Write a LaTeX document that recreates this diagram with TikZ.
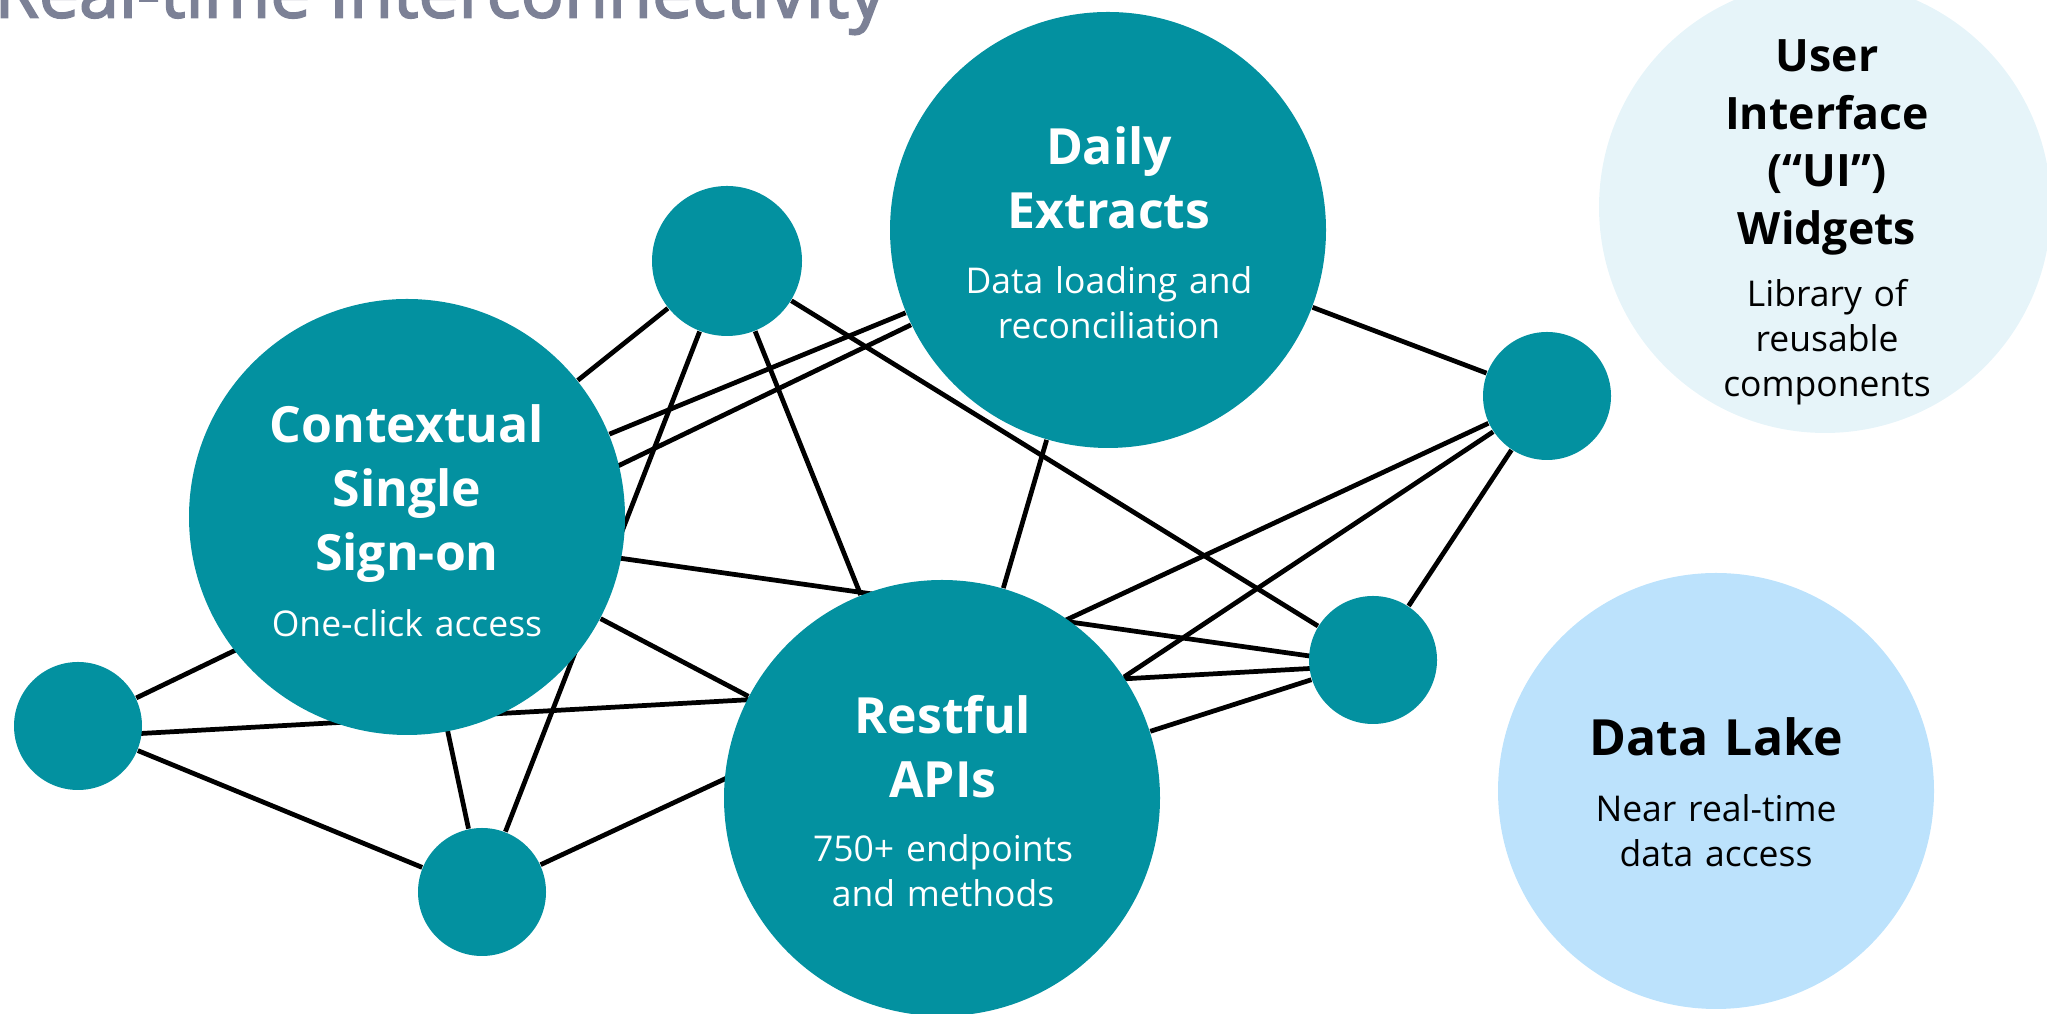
\documentclass[tikz,border=0pt]{standalone}
\usepackage{fontspec}
\setmainfont{Open Sans}
\newfontfamily\headlinefont[FakeBold=2.5]{Open Sans}
\usetikzlibrary{backgrounds}

\definecolor{hubteal}{HTML}{0391A0}
\definecolor{uipale}{HTML}{E6F4F9}
\definecolor{lakeblue}{HTML}{BCE2FC}
\definecolor{titlegray}{HTML}{7C8196}

\begin{document}
\begin{tikzpicture}[
    hub/.style={circle, fill=hubteal, inner sep=0pt, minimum size=#1},
    link/.style={line width=1.35pt, black},
    head/.style={text width=4.2cm, align=center, inner sep=0pt, anchor=base,
        font=\fontsize{14.2}{18.2}\selectfont\bfseries},
    blurb/.style={text width=4.2cm, align=center, inner sep=0pt, anchor=base,
        font=\fontsize{10.1}{12.8}\selectfont}
]
    \useasboundingbox (0,0) rectangle (20.47,10.14);

    \node[anchor=base east, inner sep=0pt, text=titlegray,
        font=\headlinefont\fontsize{20.4}{24}\selectfont] (title) at (8.86,9.965) {Real-time Interconnectivity};

    % the three big hubs
    \node[hub=4.36cm] (sso) at (4.07,4.97) {};
    \node[hub=4.36cm] (extracts) at (11.08,7.84) {};
    \node[hub=4.36cm] (apis) at (9.42,2.16) {};

    % small unlabelled hubs
    \node[hub=1.5cm] (dotA) at (7.27,7.53) {};
    \node[hub=1.28cm] (dotB) at (0.78,2.88) {};
    \node[hub=1.28cm] (dotC) at (4.82,1.22) {};
    \node[hub=1.28cm] (dotD) at (15.47,6.18) {};
    \node[hub=1.28cm] (dotE) at (13.73,3.54) {};

    % the mesh runs behind the hubs
    \begin{scope}[on background layer]
        \draw[link] (dotA) -- (sso);
        \draw[link] (dotA) -- (dotC);
        \draw[link] (dotA) -- (apis);
        \draw[link] (dotA) -- (dotE);
        \draw[link] (extracts) -- (sso);
        \draw[link] (extracts) -- (dotB);
        \draw[link] (extracts) -- (apis);
        \draw[link] (extracts) -- (dotD);
        % these two sit a little below the centres
        \draw[link] ([yshift=-1.1mm]sso.center) -- ([yshift=-0.5mm]dotE.center);
        \draw[link] ([yshift=-1.1mm]dotB.center) -- ([yshift=-0.5mm]dotE.center);
        \draw[link] (sso) -- (apis);
        \draw[link] ([xshift=-0.5mm]sso.center) -- (dotC);
        \draw[link] (dotB) -- (dotC);
        \draw[link] (dotC) -- (dotD);
        \draw[link] (apis) -- (dotD);
        \draw[link] (apis) -- (dotE);
        \draw[link] (dotD) -- (dotE);
    \end{scope}

    \node[head, text=white] (sso-head) at (4.07,5.713) {Contextual\\Single\\Sign-on};
    \node[blurb, text=white] (sso-blurb) at (4.07,3.773) {One-click access};

    \node[head, text=white] (extracts-head) at (11.09,8.49) {Daily\\Extracts};
    \node[blurb, text=white] (extracts-blurb) at (11.09,7.207) {Data loading and\\reconciliation};

    \node[head, text=white] (apis-head) at (9.43,2.807) {Restful\\APIs};
    \node[blurb, text=white] (apis-blurb) at (9.43,1.523) {750+ endpoints\\and methods};

    % the two pale circles on the right
    \node[circle, fill=uipale, inner sep=0pt, minimum size=4.52cm] (ui) at (18.25,8.07) {};
    \node[head, font=\fontsize{12.7}{16.4}\selectfont\bfseries] (ui-head) at (18.27,9.423)
        {User\\Interface\\(“UI”)\\Widgets};
    \node[blurb] (ui-blurb) at (18.27,7.07) {Library of\\reusable\\components};

    \node[circle, fill=lakeblue, inner sep=0pt, minimum size=4.36cm] (lake) at (17.16,2.23) {};
    \node[head] (lake-head) at (17.16,2.58) {Data Lake};
    \node[blurb] (lake-blurb) at (17.16,1.923) {Near real-time\\data access};
\end{tikzpicture}
\end{document}
